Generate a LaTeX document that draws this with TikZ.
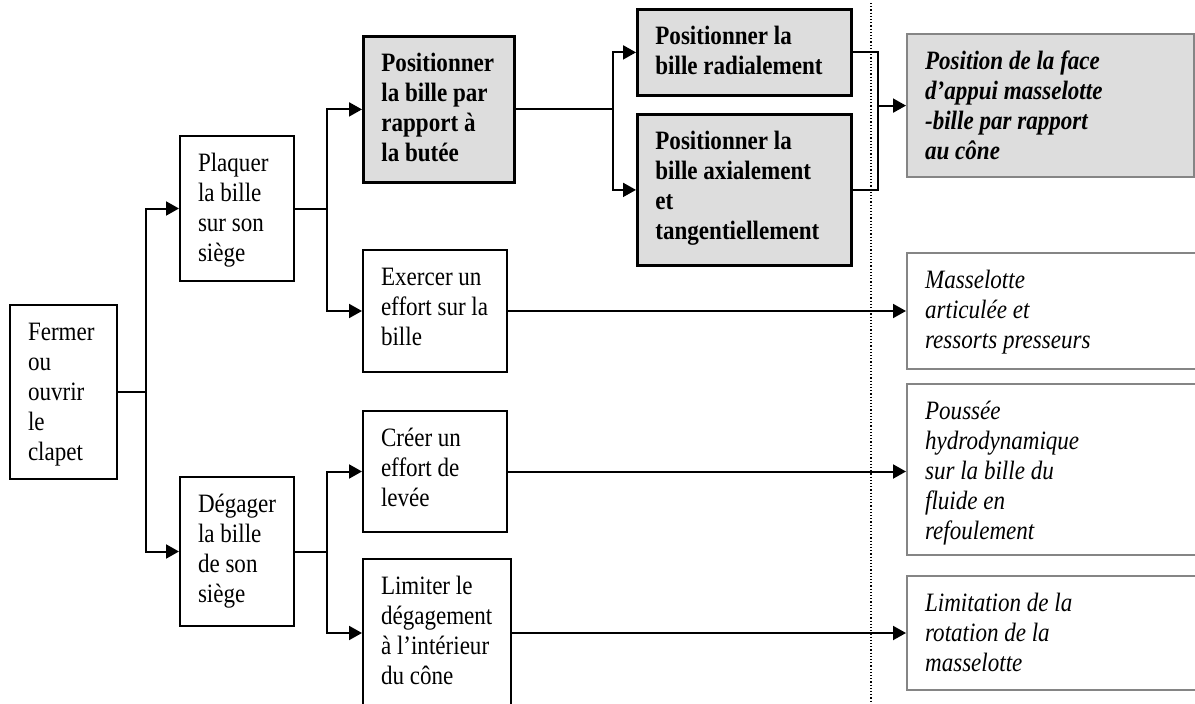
\documentclass[tikz,border=0pt]{standalone}
\usepackage{fontspec}
\setmainfont[FakeStretch=0.87]{Liberation Serif}
\usetikzlibrary{arrows.meta}
\definecolor{boxgray}{HTML}{DDDDDD}
\definecolor{edgegray}{HTML}{858585}
\newcommand\bxt[3]{\begin{minipage}[c][#2pt][t]{#1pt}\raggedright\strut #3\end{minipage}}
\tikzset{
  every node/.style={font=\fontsize{26.5}{30}\selectfont},
  fbox/.style={draw, line width=2pt, inner xsep=18pt, inner ysep=14pt, anchor=north west, fill=white},
  gbox/.style={fbox, fill=boxgray, line width=2.8pt},
  rbox/.style={fbox, draw=edgegray, line width=2.2pt},
  pbox/.style={rbox, fill=boxgray},
  link/.style={line width=2pt},
  arr/.style={link, -{Triangle[length=13pt,width=14pt]}},
}
\begin{document}
\begin{tikzpicture}[x=1pt,y=-1pt]
\path[use as bounding box, clip] (0,0) rectangle (1195,704);
\fill[white] (0,0) rectangle (1195,704);

\draw[dotted, line width=1.2pt] (871,3) -- (871,704);

\node[fbox] (fermer) at (9,304) {\bxt{71}{146}{Fermer\\ou\\ouvrir\\le\\clapet}};
\node[fbox] (plaquer) at (179,135) {\bxt{78}{117}{Plaquer\\la bille\\sur son\\siège}};
\node[fbox] (degager) at (179,476) {\bxt{78}{121}{Dégager\\la bille\\de son\\siège}};
\node[gbox] (posbut) at (362,35) {\bxt{115}{118}{\bfseries Positionner\\la bille par\\rapport à\\la butée}};
\node[fbox] (exercer) at (362,249) {\bxt{108}{94}{Exercer un\\effort sur la\\bille}};
\node[fbox] (creer) at (362,410) {\bxt{108}{93}{Créer un\\effort de\\levée}};
\node[fbox] (limiter) at (362,558) {\bxt{112}{120}{Limiter le\\dégagement\\à l’intérieur\\du cône}};
\node[gbox] (radial) at (636,8) {\bxt{178}{58}{\bfseries Positionner la\\bille radialement}};
\node[gbox] (axial) at (636,113) {\bxt{178}{123}{\bfseries Positionner la\\bille axialement\\et\\tangentiellement}};
\node[pbox] (posface) at (906,33) {\bxt{251}{115}{\bfseries\itshape Position de la face\\d’appui masselotte\\-bille par rapport\\au cône}};
\node[rbox] (massel) at (906,252) {\bxt{264}{88}{\itshape Masselotte\\articulée et\\ressorts presseurs}};
\node[rbox] (poussee) at (906,383) {\bxt{264}{143}{\itshape Poussée\\hydrodynamique\\sur la bille du\\fluide en\\refoulement}};
\node[rbox] (limrot) at (906,575) {\bxt{264}{86}{\itshape Limitation de la\\rotation de la\\masselotte}};

\coordinate (b1) at (146,0);
\coordinate (b2) at (327,0);
\coordinate (b3) at (613,0);
\coordinate (b4) at (878,0);

\draw[arr] (fermer.east) -- (fermer.east -| b1) |- (plaquer.west);
\draw[arr] (fermer.east -| b1) |- (degager.west);
\draw[arr] (plaquer.east) -- (plaquer.east -| b2) |- (posbut.west);
\draw[arr] (plaquer.east -| b2) |- (exercer.west);
\draw[arr] (degager.east) -- (degager.east -| b2) |- (creer.west);
\draw[arr] (degager.east -| b2) |- (limiter.west);
\draw[arr] (posbut.east) -- (posbut.east -| b3) |- (radial.west);
\draw[arr] (posbut.east -| b3) |- (axial.west);
\draw[link] (radial.east) -| (b4 |- axial.east) -- (axial.east);
\draw[arr] (b4 |- posface.west) -- (posface.west);
\draw[arr] (exercer.east) -- (exercer.east -| massel.west);
\draw[arr] (creer.east) -- (creer.east -| poussee.west);
\draw[arr] (limiter.east) -- (limiter.east -| limrot.west);
\end{tikzpicture}
\end{document}
